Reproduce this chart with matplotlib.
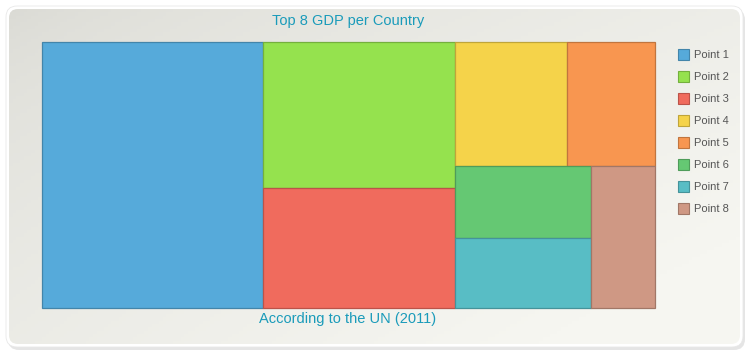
import numpy as np
import matplotlib.pyplot as plt
import matplotlib.colors as mcolors
from matplotlib.patches import Rectangle, FancyBboxPatch

plt.rcParams['font.family'] = ['Liberation Sans', 'DejaVu Sans']

# data
labels = ['Point 1', 'Point 2', 'Point 3', 'Point 4',
          'Point 5', 'Point 6', 'Point 7', 'Point 8']
values = [15.04, 7.17, 5.90, 3.55, 2.79, 2.51, 2.44, 2.33]
colors = ['#56AADA', '#95E24E', '#F06B5D', '#F5D34A',
          '#F89650', '#65C873', '#58BDC5', '#CF9884']
title = 'Top 8 GDP per Country'
subtitle = 'According to the UN (2011)'


def darker(c, f=0.78):
    r, g, b = mcolors.to_rgb(c)
    return (r * f, g * f, b * f)


def worst(row, side):
    s = sum(row)
    return max(max(side * side * r / (s * s), s * s / (side * side * r)) for r in row)


def squarify(areas, x, y, dx, dy):
    """squarified treemap, returns list of (x, y, w, h), y grows downward"""
    rects = []
    areas = list(areas)
    while areas:
        side = min(dx, dy)
        row = [areas[0]]
        i = 1
        while i < len(areas) and worst(row + [areas[i]], side) <= worst(row, side):
            row.append(areas[i])
            i += 1
        s = sum(row)
        if dx >= dy:
            w = s / dy
            yy = y
            for r in row:
                rects.append((x, yy, w, r / w))
                yy += r / w
            x += w
            dx -= w
        else:
            h = s / dx
            xx = x
            for r in row:
                rects.append((xx, y, r / h, h))
                xx += r / h
            y += h
            dy -= h
        areas = areas[i:]
    return rects


fig = plt.figure(figsize=(7.5, 3.6), dpi=100)
fig.patch.set_facecolor('white')

# background panel
bg = fig.add_axes([0, 0, 1, 1])
bg.set_xlim(0, 750)
bg.set_ylim(360, 0)
bg.axis('off')
shadow = FancyBboxPatch((8, 9), 737, 341, boxstyle='round,pad=0,rounding_size=11',
                        facecolor='#d4d4d4', edgecolor='none', alpha=0.6)
bg.add_patch(shadow)
outer = FancyBboxPatch((6, 6), 737, 341, boxstyle='round,pad=0,rounding_size=11',
                       facecolor='white', edgecolor='#e8e8e8', linewidth=0.6)
bg.add_patch(outer)
inner = FancyBboxPatch((9, 9), 731, 335, boxstyle='round,pad=0,rounding_size=9',
                       facecolor='none', edgecolor='none')
bg.add_patch(inner)
gx, gy = np.meshgrid(np.linspace(0, 1, 200), np.linspace(0, 1, 100))
grad = np.clip(0.55 * gx + 0.45 * gy + 0.2 * gx * gy, 0, 1) ** 0.6
cmap = mcolors.LinearSegmentedColormap.from_list('bgc', ['#DADAD4', '#F6F6F1'])
img = bg.imshow(grad, cmap=cmap, extent=(9, 740, 344, 9), aspect='auto', zorder=1)
img.set_clip_path(inner)

# treemap
W, H = 613.0, 266.0
ax = fig.add_axes([42 / 750, 1 - 308 / 360, W / 750, H / 360])
ax.set_xlim(0, W)
ax.set_ylim(H, 0)
ax.axis('off')
total = sum(values)
areas = [v / total * W * H for v in values]
for (x, y, w, h), c in zip(squarify(areas, 0, 0, W, H), colors):
    ax.add_patch(Rectangle((x, y), w, h, facecolor=c, edgecolor=darker(c),
                           linewidth=0.9, clip_on=False))

fig.text(348 / 750, 1 - 21.5 / 360, title, ha='center', va='center',
         fontsize=10.5, color='#1A9BBA')
fig.text(348 / 750, 1 - 319.5 / 360, subtitle, ha='center', va='center',
         fontsize=10.5, color='#1A9BBA')

# legend
for i, (lab, c) in enumerate(zip(labels, colors)):
    yc = 54 + i * 22
    bg.add_patch(Rectangle((678, yc - 5.5), 11, 11, facecolor=c,
                           edgecolor=darker(c), linewidth=0.8, zorder=3))
    bg.text(694, yc + 1.5, lab, ha='left', va='center', fontsize=8,
            color='#555555', zorder=3)

fig.savefig('out.png', dpi=100)
